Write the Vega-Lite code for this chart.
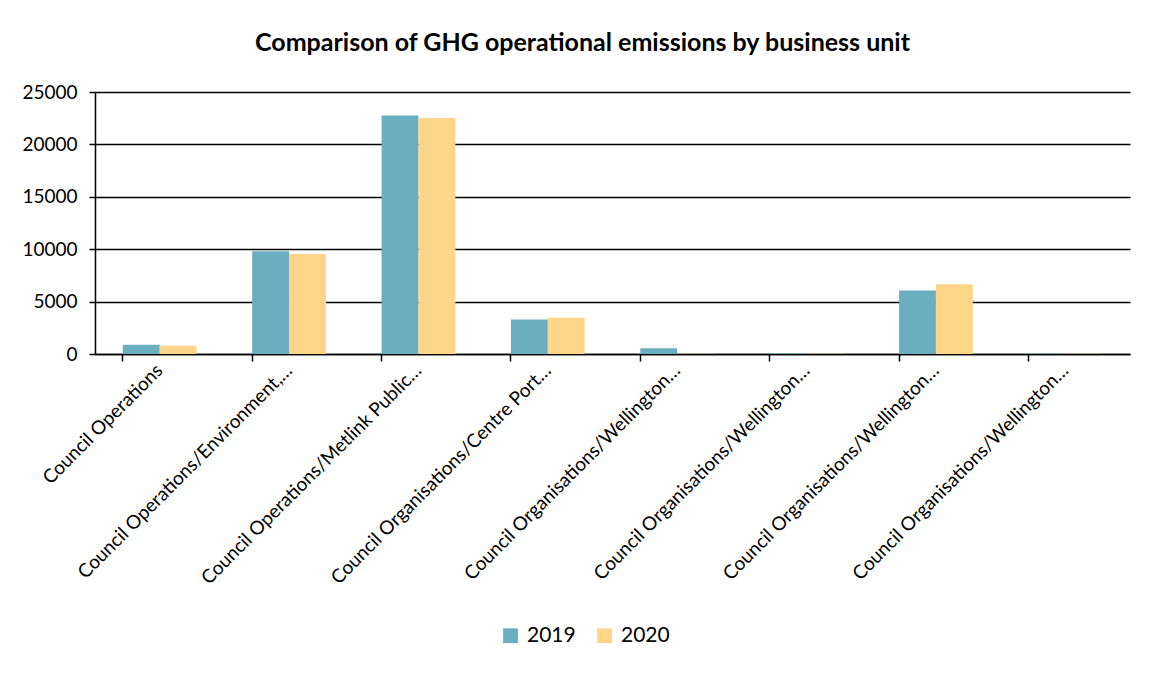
{
  "$schema": "https://vega.github.io/schema/vega-lite/v6.json",
  "autosize": {"type": "none"},
  "width": 1035,
  "height": 262,
  "padding": {"left": 95, "top": 92, "right": 25, "bottom": 321},
  "background": "white",
  "title": {
    "text": "Comparison of GHG operational emissions by business unit",
    "font": "Lato",
    "fontSize": 25,
    "fontWeight": "bold",
    "color": "black",
    "anchor": "middle",
    "frame": "group",
    "dx": -30,
    "offset": 27
  },
  "data": {
    "values": [
      {"unit": "Council Operations", "year": "2019", "emissions": 880},
      {"unit": "Council Operations", "year": "2020", "emissions": 785},
      {"unit": "Council Operations/Environment,…", "year": "2019", "emissions": 9810},
      {"unit": "Council Operations/Environment,…", "year": "2020", "emissions": 9550},
      {"unit": "Council Operations/Metlink Public…", "year": "2019", "emissions": 22760},
      {"unit": "Council Operations/Metlink Public…", "year": "2020", "emissions": 22530},
      {"unit": "Council Organisations/Centre Port…", "year": "2019", "emissions": 3300},
      {"unit": "Council Organisations/Centre Port…", "year": "2020", "emissions": 3460},
      {"unit": "Council Organisations/Wellington…", "year": "2019", "emissions": 540},
      {"unit": "Council Organisations/Wellington…", "year": "2020", "emissions": 20},
      {"unit": "Council Organisations/Wellington… ", "year": "2019", "emissions": 60},
      {"unit": "Council Organisations/Wellington… ", "year": "2020", "emissions": 30},
      {"unit": "Council Organisations/Wellington…  ", "year": "2019", "emissions": 6050},
      {"unit": "Council Organisations/Wellington…  ", "year": "2020", "emissions": 6650},
      {"unit": "Council Organisations/Wellington…   ", "year": "2019", "emissions": 50},
      {"unit": "Council Organisations/Wellington…   ", "year": "2020", "emissions": 25}
    ]
  },
  "mark": {"type": "bar"},
  "encoding": {
    "x": {
      "field": "unit",
      "type": "nominal",
      "sort": null,
      "title": null,
      "scale": {"paddingInner": 0.43, "paddingOuter": 0.215},
      "axis": {
        "labelAngle": -45,
        "labelAlign": "right",
        "labelBaseline": "middle",
        "labelFont": "Lato",
        "labelFontSize": 19,
        "labelColor": "black",
        "labelLimit": 500,
        "labelPadding": 6,
        "domainColor": "black",
        "domainWidth": 1.5,
        "tickColor": "black",
        "tickWidth": 1.5,
        "tickSize": 7,
        "bandPosition": 0,
        "labelOffset": 0
      }
    },
    "xOffset": {"field": "year", "type": "nominal"},
    "y": {
      "field": "emissions",
      "type": "quantitative",
      "title": null,
      "scale": {"domain": [0, 25000]},
      "axis": {
        "values": [0, 5000, 10000, 15000, 20000, 25000],
        "format": "d",
        "labelFont": "Lato",
        "labelFontSize": 19,
        "labelColor": "black",
        "labelPadding": 12,
        "domainColor": "black",
        "domainWidth": 1.5,
        "tickColor": "black",
        "tickWidth": 1.5,
        "tickSize": 6,
        "grid": true,
        "gridColor": "black",
        "gridWidth": 1.5,
        "gridOpacity": 1
      }
    },
    "color": {
      "field": "year",
      "type": "nominal",
      "scale": {"domain": ["2019", "2020"], "range": ["#6BAEBF", "#FFD589"]},
      "legend": {
        "title": null,
        "orient": "none",
        "direction": "horizontal",
        "legendX": 405,
        "legendY": 533,
        "symbolType": "square",
        "symbolSize": 220,
        "symbolStrokeWidth": 0,
        "labelFont": "Lato",
        "labelFontSize": 21,
        "labelColor": "black",
        "columnPadding": 18,
        "labelOffset": 6
      }
    }
  },
  "config": {
    "view": {"stroke": null}
  }
}
